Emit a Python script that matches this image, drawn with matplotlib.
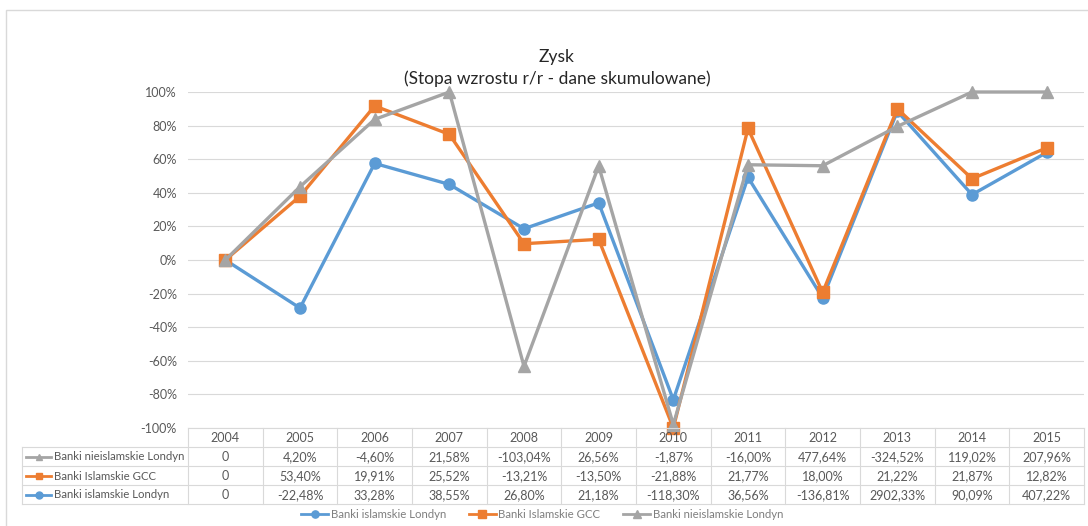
import matplotlib
matplotlib.use("Agg")
import matplotlib.pyplot as plt
import matplotlib.transforms as mtransforms
from matplotlib.lines import Line2D
from matplotlib.patches import Rectangle

plt.rcParams['font.family'] = ['Lato', 'DejaVu Sans']

years = ['2004', '2005', '2006', '2007', '2008', '2009', '2010',
         '2011', '2012', '2013', '2014', '2015']

# values plotted on the chart (%)
londyn_isl = [0, -28.6, 57.5, 45, 18.6, 34, -83.2, 49.2, -22.6, 88.5, 38.9, 64]
gcc_isl = [0, 38, 91.7, 74.8, 9.7, 12.3, -100, 78.3, -19.3, 90, 48.4, 66.7]
londyn_nieisl = [0, 43.6, 83.7, 100, -63.3, 56, -98, 56.7, 56.1, 79.5, 100, 100]

# data table rows
tab_nieisl = ['0', '4,20%', '-4,60%', '21,58%', '-103,04%', '26,56%', '-1,87%',
              '-16,00%', '477,64%', '-324,52%', '119,02%', '207,96%']
tab_gcc = ['0', '53,40%', '19,91%', '25,52%', '-13,21%', '-13,50%', '-21,88%',
           '21,77%', '18,00%', '21,22%', '21,87%', '12,82%']
tab_londyn = ['0', '-22,48%', '33,28%', '38,55%', '26,80%', '21,18%', '-118,30%',
              '36,56%', '-136,81%', '2902,33%', '90,09%', '407,22%']

W, H = 1088, 526
fig = plt.figure(figsize=(W / 100, H / 100), dpi=100)

def fy(y):
    return 1 - y / H

txt = '#595959'
grid = '#D9D9D9'
blue, orange, gray = '#5B9BD5', '#ED7D31', '#A5A5A5'

# chart area border
fig.patches.append(Rectangle((6 / W, fy(540)), 1.2, (540 - 10) / H,
                             transform=fig.transFigure, fill=False,
                             edgecolor=grid, lw=1.0))

ax = fig.add_axes([188 / W, fy(428), (1084 - 188) / W, (428 - 92) / H])
x = list(range(len(years)))

series = [
    ('Banki islamskie Londyn', londyn_isl, blue, 'o', 8),
    ('Banki Islamskie GCC', gcc_isl, orange, 's', 8),
    ('Banki nieislamskie Londyn', londyn_nieisl, gray, '^', 8),
]
handles = []
for name, vals, col, mk, ms in series:
    ln, = ax.plot(x, vals, color=col, lw=2.4, marker=mk, markersize=ms,
                  clip_on=False, label=name, zorder=3)
    handles.append(ln)

ax.set_xlim(-0.5, len(years) - 0.5)
ax.set_ylim(-100, 100)
ax.set_yticks(range(-100, 101, 20))
ax.set_yticklabels([f'{v}%' for v in range(-100, 101, 20)])
ax.tick_params(axis='y', length=0, pad=8, labelsize=9, labelcolor=txt)
ax.set_xticks([])
for s in ax.spines.values():
    s.set_visible(False)
ax.grid(axis='y', color=grid, lw=0.8)
ax.set_axisbelow(True)

fig.text(557 / W, fy(57), 'Zysk', ha='center', va='center', fontsize=12.5, color='#262626')
fig.text(557 / W, fy(79), '(Stopa wzrostu r/r - dane skumulowane)', ha='center',
         va='center', fontsize=12.5, color='#262626')

# data table under the plot
tr = mtransforms.blended_transform_factory(ax.transData, fig.transFigure)
rows_y = [428, 447, 466, 485, 504]
lkw = dict(color=grid, lw=0.8, clip_on=False)
fig.add_artist(Line2D([188 / W, 1084 / W], [fy(428)] * 2, transform=fig.transFigure, **lkw))
for yy in rows_y[1:]:
    fig.add_artist(Line2D([22 / W, 1084 / W], [fy(yy)] * 2, transform=fig.transFigure, **lkw))
fig.add_artist(Line2D([22 / W] * 2, [fy(447), fy(504)], transform=fig.transFigure, **lkw))
for b in range(len(years) + 1):
    fig.add_artist(Line2D([b - 0.5] * 2, [fy(428), fy(504)], transform=tr, **lkw))

for i, yr in enumerate(years):
    fig.text(i, fy(438), yr, transform=tr, ha='center', va='center', fontsize=9, color=txt)

table_rows = [
    ('Banki nieislamskie Londyn', tab_nieisl, gray, '^'),
    ('Banki Islamskie GCC', tab_gcc, orange, 's'),
    ('Banki islamskie Londyn', tab_londyn, blue, 'o'),
]
for r, (name, vals, col, mk) in enumerate(table_rows):
    yc = fy((rows_y[r + 1] + rows_y[r + 2]) / 2 + 0.5)
    for i, v in enumerate(vals):
        fig.text(i, yc, v, transform=tr, ha='center', va='center', fontsize=9, color=txt)
    fig.add_artist(Line2D([26 / W, 51 / W], [yc, yc], color=col, lw=2.0,
                          transform=fig.transFigure))
    fig.add_artist(Line2D([38.5 / W], [yc], color=col, marker=mk, markersize=5,
                          lw=0, transform=fig.transFigure))
    fig.text(54 / W, yc, name, ha='left', va='center', fontsize=8.2, color=txt)

leg = fig.legend(handles=handles, loc='center', bbox_to_anchor=(542 / W, fy(514)),
                 ncol=3, frameon=False, fontsize=8.2, labelcolor='#7F7F7F',
                 handlelength=2.4, handletextpad=0.2, columnspacing=2.0,
                 markerscale=0.65)
for h in leg.legend_handles:
    h.set_linewidth(2.0)

fig.savefig('out.png', dpi=100)
